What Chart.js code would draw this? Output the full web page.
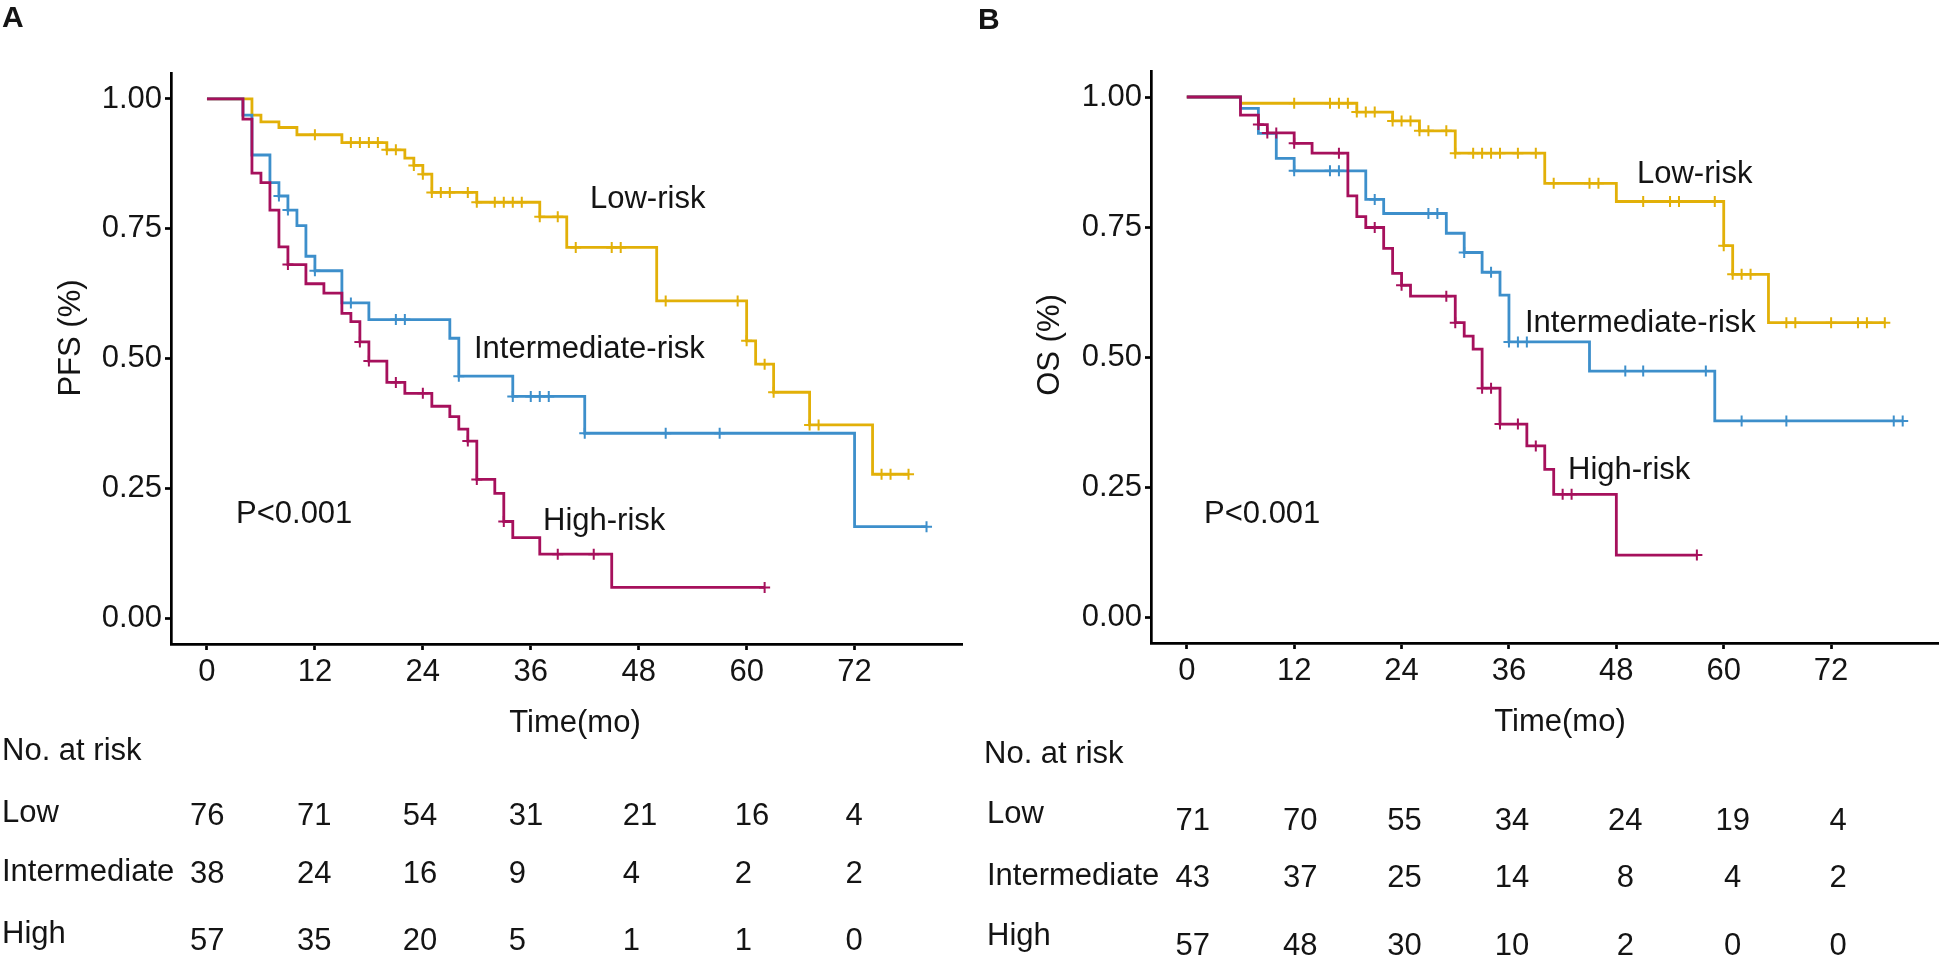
<!DOCTYPE html>
<html><head><meta charset="utf-8">
<script src="https://cdn.jsdelivr.net/npm/chart.js@4/dist/chart.umd.min.js"></script>
<style>
html,body{margin:0;padding:0;background:#fff;width:1946px;height:957px;overflow:hidden}
canvas{position:absolute;top:0}
#cA{left:0}
#cB{left:970px}
</style></head><body>
<canvas id="cA" width="970" height="957"></canvas>
<canvas id="cB" width="976" height="957"></canvas>
<script>
// ---------- data ----------
const timeTicks = [0, 12, 24, 36, 48, 60, 72];
const survTicks = [0, 0.25, 0.5, 0.75, 1];
const groupLabels = ['Low', 'Intermediate', 'High'];

// Panel A: PFS
const pfsLowT  = [0,5,6,8,10,15,20,22,23,24,25,30,37,40,50,60,61,63,67,74];
const pfsLowS  = [1,0.969,0.956,0.945,0.931,0.916,0.902,0.886,0.872,0.855,0.820,0.801,0.773,0.714,0.611,0.534,0.489,0.435,0.372,0.277];
const pfsLowCens = [12,16,17,18,19,20,21,23,24,25,26,27,29,30,32,33,34,35,37,39,41,45,46,51,59,60,62,63,67,68,75,76,78];

const pfsIntT  = [0,4,5,7,8,9,10,11,12,15,18,27,28,34,42,72];
const pfsIntS  = [1,0.969,0.892,0.839,0.813,0.786,0.756,0.697,0.669,0.607,0.575,0.539,0.466,0.427,0.356,0.176];
const pfsIntCens = [8,9,12,16,21,22,28,34,36,37,38,42,51,57,80];

const pfsHighT = [0,4,5,6,7,8,9,11,13,15,16,17,18,20,22,25,27,28,29,30,32,33,34,37,45];
const pfsHighS = [1,0.961,0.857,0.839,0.786,0.715,0.681,0.644,0.626,0.587,0.571,0.532,0.495,0.454,0.433,0.408,0.388,0.364,0.341,0.267,0.240,0.186,0.155,0.123,0.059];
const pfsHighCens = [9,17,18,21,24,29,30,33,39,43,62];

const pfsRiskLow  = [76,71,54,31,21,16,4];
const pfsRiskInt  = [38,24,16,9,4,2,2];
const pfsRiskHigh = [57,35,20,5,1,1,0];

// Panel B: OS
const osLowT  = [0,6,19,23,26,30,40,48,60,61,65];
const osLowS  = [1,0.988,0.971,0.954,0.935,0.892,0.834,0.799,0.714,0.659,0.566];
const osLowCens = [12,16,17,18,19,20,21,23,24,25,26,27,29,30,32,33,34,35,37,39,41,45,46,51,54,55,59,60,61,62,63,67,68,72,75,76,78];

const osIntT  = [0,6,8,10,12,20,22,29,31,33,35,36,45,59];
const osIntS  = [1,0.978,0.930,0.882,0.858,0.803,0.776,0.738,0.701,0.663,0.619,0.529,0.473,0.377];
const osIntCens = [12,16,17,21,27,28,31,34,36,37,38,49,51,58,62,67,79,80];

const osHighT = [0,6,8,9,12,14,18,19,20,22,23,24,25,30,31,32,33,35,38,40,41,48];
const osHighS = [1,0.965,0.947,0.931,0.911,0.892,0.810,0.770,0.749,0.709,0.661,0.638,0.617,0.566,0.540,0.515,0.440,0.371,0.329,0.284,0.236,0.119];
const osHighCens = [8,9,10,12,17,21,24,29,30,33,34,35,37,39,42,43,57];

const osRiskLow  = [71,70,55,34,24,19,4];
const osRiskInt  = [43,37,25,14,8,4,2];
const osRiskHigh = [57,48,30,10,2,0,0];

// ---------- styling ----------
const FONT = "'Liberation Sans', Arial, Helvetica, sans-serif";
const INK = '#141414';
const COL = { low: '#E2B008', int: '#3D8FCB', high: '#A6105C' };

Chart.defaults.font.family = FONT;
Chart.defaults.font.size = 31;
Chart.defaults.color = INK;

function survAt(T, S, t) {
  let v = S[0];
  for (let i = 0; i < T.length; i++) { if (T[i] <= t) v = S[i]; }
  return v;
}
function curveData(T, S, C) {
  const pts = T.map((t, i) => ({ x: t, y: S[i] }));
  const end = Math.max(T[T.length - 1], ...C);
  if (end > T[T.length - 1]) pts.push({ x: end, y: S[S.length - 1] });
  return pts;
}
function censData(T, S, C) {
  return C.map(t => ({ x: t, y: survAt(T, S, t) }));
}
function groupSets(T, S, C, color, order) {
  return [
    { data: curveData(T, S, C), borderColor: color, borderWidth: 2.8, stepped: 'before',
      pointRadius: 0, fill: false, borderJoinStyle: 'miter', borderCapStyle: 'butt', order: order, clip: false },
    { data: censData(T, S, C), showLine: false, pointStyle: 'cross', pointRadius: 5.5,
      pointBorderColor: color, pointBorderWidth: 2, pointBackgroundColor: color, order: order, clip: false }
  ];
}

const textPlugin = {
  id: 'panelText',
  afterDraw(chart, args, o) {
    const ctx = chart.ctx, L = o.layout, xs = chart.scales.x;
    ctx.save();
    ctx.fillStyle = INK;
    ctx.textBaseline = 'alphabetic';
    ctx.font = 'bold 30px ' + FONT;
    ctx.textAlign = 'left';
    ctx.fillText(L.letter, L.letterX, L.letterY);
    ctx.font = '31px ' + FONT;
    ctx.save();
    ctx.translate(L.yTitleX, L.yTitleY);
    ctx.rotate(-Math.PI / 2);
    ctx.textAlign = 'center';
    ctx.fillText(L.yTitle, 0, 0);
    ctx.restore();
    ctx.textAlign = 'center';
    ctx.fillText(L.xTitle, L.xTitleX, L.xTitleY);
    ctx.textAlign = 'left';
    L.notes.forEach(n => ctx.fillText(n.text, n.x, n.y));
    ctx.fillText('No. at risk', L.headX, L.headY);
    o.rows.forEach((vals, i) => {
      ctx.textAlign = 'left';
      ctx.fillText(groupLabels[i], L.rowX, L.labelY[i]);
      ctx.textAlign = L.numAlign;
      vals.forEach((v, j) => {
        ctx.fillText(String(v), xs.getPixelForValue(timeTicks[j]) + L.numOffset[j], L.numY[i]);
      });
    });
    ctx.restore();
  }
};

function axisCommon() {
  return {
    grid: { display: true, drawOnChartArea: false, drawTicks: true, tickLength: 6, tickWidth: 2.7, tickColor: '#000' },
    border: { display: true, color: '#000', width: 2.7 },
    title: { display: false }
  };
}

function makePanel(id, sets, rows, L) {
  const x = axisCommon(), y = axisCommon();
  Object.assign(x, {
    type: 'linear', min: -4, max: 84,
    afterBuildTicks: s => { s.ticks = timeTicks.map(v => ({ value: v })); },
    afterFit: s => { s.height = L.xHeight; },
    ticks: { autoSkip: false, maxRotation: 0, padding: 4, color: INK, font: { size: 31 }, callback: v => String(v) }
  });
  Object.assign(y, {
    type: 'linear', min: -0.05, max: 1.05,
    afterBuildTicks: s => { s.ticks = survTicks.map(v => ({ value: v })); },
    afterFit: s => { s.width = L.yWidth; },
    ticks: { padding: 3, color: INK, font: { size: 31 }, callback: v => Number(v).toFixed(2) }
  });
  return new Chart(document.getElementById(id), {
    type: 'line',
    data: { datasets: sets },
    options: {
      responsive: false, animation: false, events: [],
      layout: { padding: { left: 0, top: L.padTop, right: L.padRight, bottom: L.padBottom } },
      scales: { x: x, y: y },
      plugins: { legend: { display: false }, tooltip: { enabled: false }, panelText: { layout: L, rows: rows } }
    },
    plugins: [textPlugin]
  });
}

makePanel('cA',
  [].concat(
    groupSets(pfsHighT, pfsHighS, pfsHighCens, COL.high, 1),
    groupSets(pfsIntT, pfsIntS, pfsIntCens, COL.int, 2),
    groupSets(pfsLowT, pfsLowS, pfsLowCens, COL.low, 3)
  ),
  [pfsRiskLow, pfsRiskInt, pfsRiskHigh],
  {
    padTop: 73, padRight: 5, padBottom: 216, yWidth: 171, xHeight: 97,
    letter: 'A', letterX: 2, letterY: 27,
    yTitle: 'PFS (%)', yTitleX: 80, yTitleY: 338,
    xTitle: 'Time(mo)', xTitleX: 575, xTitleY: 732,
    notes: [
      { text: 'Low-risk', x: 590, y: 208 },
      { text: 'Intermediate-risk', x: 474, y: 358 },
      { text: 'High-risk', x: 543, y: 530 },
      { text: 'P<0.001', x: 236, y: 523 }
    ],
    headX: 2, headY: 760, rowX: 2,
    labelY: [822, 881, 943], numY: [825, 883, 950],
    numAlign: 'left', numOffset: [-17, -18, -20, -22, -16, -12, -9]
  });

makePanel('cB',
  [].concat(
    groupSets(osHighT, osHighS, osHighCens, COL.high, 1),
    groupSets(osIntT, osIntS, osIntCens, COL.int, 2),
    groupSets(osLowT, osLowS, osLowCens, COL.low, 3)
  ),
  [osRiskLow, osRiskInt, osRiskHigh],
  {
    padTop: 71, padRight: 6, padBottom: 217, yWidth: 181, xHeight: 97,
    letter: 'B', letterX: 8, letterY: 29,
    yTitle: 'OS (%)', yTitleX: 89, yTitleY: 345,
    xTitle: 'Time(mo)', xTitleX: 590, xTitleY: 731,
    notes: [
      { text: 'Low-risk', x: 667, y: 183 },
      { text: 'Intermediate-risk', x: 555, y: 332 },
      { text: 'High-risk', x: 598, y: 479 },
      { text: 'P<0.001', x: 234, y: 523 }
    ],
    headX: 14, headY: 763, rowX: 17,
    labelY: [823, 885, 945], numY: [830, 887, 955],
    numAlign: 'center', numOffset: [6, 6, 3, 3, 9, 9, 7]
  });
</script>
</body></html>
